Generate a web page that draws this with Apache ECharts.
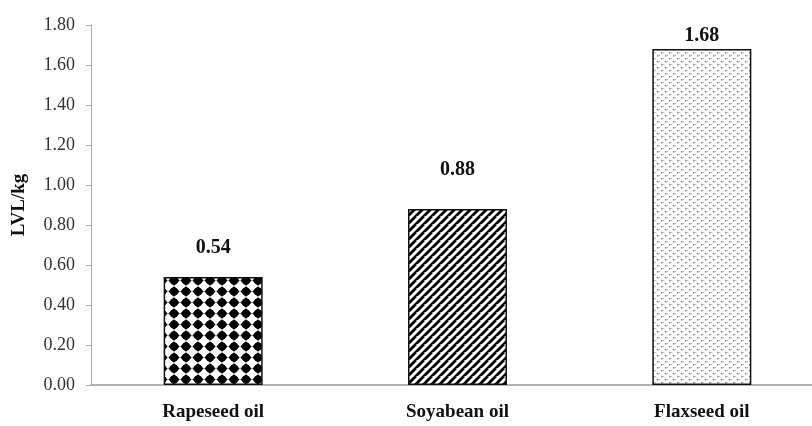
<!DOCTYPE html>
<html>
<head>
<meta charset="utf-8">
<script src="https://cdn.jsdelivr.net/npm/echarts@6/dist/echarts.min.js"></script>
<style>html,body{margin:0;padding:0;background:#fff}#c{width:812px;height:426px}</style>
</head>
<body>
<div id="c"></div>
<script>
const categories = ['Rapeseed oil', 'Soyabean oil', 'Flaxseed oil'];
const values = [0.54, 0.88, 1.68];
const yTicks = [0, 0.2, 0.4, 0.6, 0.8, 1.0, 1.2, 1.4, 1.6, 1.8];
const yName = 'LVL/kg';

// label gaps above bars (styling, as in the original)
const labelGaps = [19, 29, 3];

function makePattern(kind) {
  const c = document.createElement('canvas');
  const ctx = c.getContext('2d');
  if (kind === 'dots') {
    c.width = 12; c.height = 11;
    ctx.fillStyle = '#fff'; ctx.fillRect(0, 0, 12, 11);
    ctx.fillStyle = '#000';
    ctx.beginPath();
    ctx.moveTo(6, 0.3); ctx.lineTo(11.7, 5.5); ctx.lineTo(6, 10.7); ctx.lineTo(0.3, 5.5); ctx.closePath();
    ctx.fill();
    ctx.beginPath(); ctx.arc(6, 5.5, 4.0, 0, Math.PI * 2); ctx.fill();
  } else if (kind === 'hatch') {
    c.width = 8; c.height = 8;
    ctx.fillStyle = '#fff'; ctx.fillRect(0, 0, 8, 8);
    ctx.strokeStyle = '#000'; ctx.lineWidth = 2.8;
    for (let o = -8; o <= 16; o += 8) {
      ctx.beginPath(); ctx.moveTo(o - 8, 16); ctx.lineTo(o + 8, 0); ctx.stroke();
    }
  } else {
    c.width = 8; c.height = 6;
    ctx.fillStyle = '#fff'; ctx.fillRect(0, 0, 8, 6);
    ctx.fillStyle = '#888';
    ctx.fillRect(1, 1, 1.5, 1.5);
    ctx.fillRect(5, 4, 1.5, 1.5);
    ctx.fillStyle = '#bbb';
    ctx.fillRect(3, 1, 1, 1);
    ctx.fillRect(7, 4, 1, 1);
  }
  return { image: c, repeat: 'repeat' };
}
const patterns = [makePattern('dots'), makePattern('hatch'), makePattern('sparse')];

const serif = '"Liberation Serif", "DejaVu Serif", serif';
const chart = echarts.init(document.getElementById('c'));
chart.setOption({
  animation: false,
  backgroundColor: '#fff',
  grid: { left: 91, width: 733, top: 25, height: 360, outerBoundsMode: 'none', containLabel: false },
  xAxis: {
    type: 'category',
    data: categories,
    axisLine: { lineStyle: { color: '#999', width: 1.5 } },
    axisTick: { show: false },
    axisLabel: { fontFamily: serif, fontWeight: 'bold', fontSize: 19, color: '#111', margin: 18 }
  },
  yAxis: {
    type: 'value',
    min: yTicks[0],
    max: yTicks[yTicks.length - 1],
    interval: 0.2,
    name: yName,
    nameLocation: 'middle',
    nameGap: 62,
    nameTextStyle: { fontFamily: serif, fontWeight: 'bold', fontSize: 19, color: '#111' },
    axisLine: { show: true, lineStyle: { color: '#aaa', width: 1 } },
    axisTick: { show: true, length: 5, lineStyle: { color: '#aaa' } },
    splitLine: { show: false },
    axisLabel: {
      fontFamily: serif, fontSize: 18, color: '#333', margin: 16,
      formatter: v => v.toFixed(2)
    }
  },
  series: [{
    type: 'bar',
    barWidth: 99,
    data: values.map((v, i) => ({
      value: v,
      itemStyle: { color: patterns[i], borderColor: '#111', borderWidth: 1.5 },
      label: { distance: labelGaps[i] }
    })),
    label: {
      show: true, position: 'top',
      fontFamily: serif, fontWeight: 'bold', fontSize: 20, color: '#111',
      formatter: p => p.value.toFixed(2)
    }
  }]
});
</script>
</body>
</html>
